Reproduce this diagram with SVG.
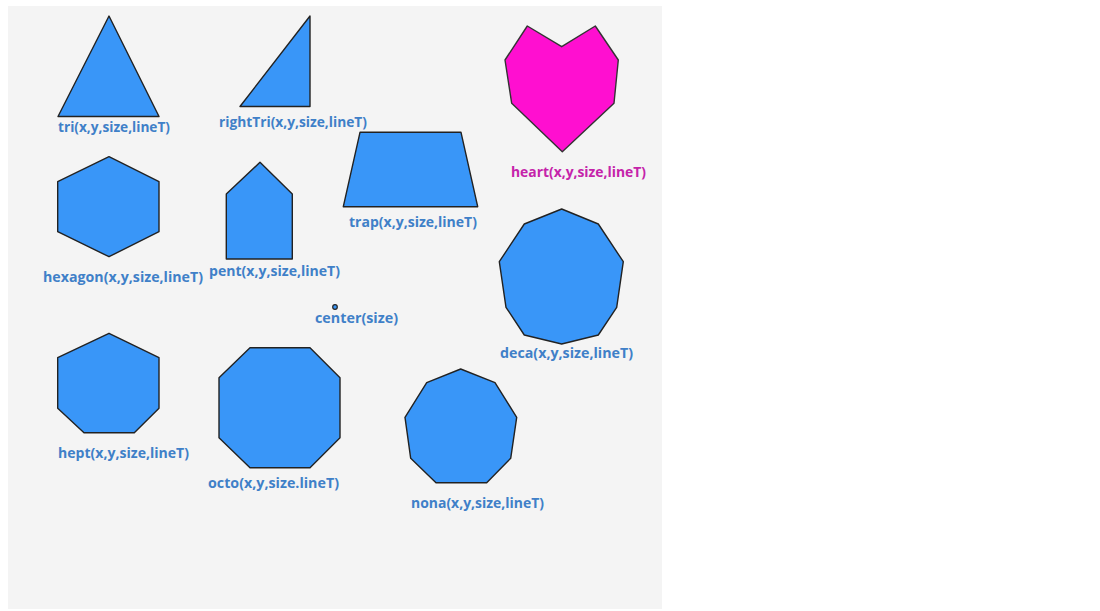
<svg xmlns="http://www.w3.org/2000/svg" width="1100" height="611" viewBox="0 0 1100 611">
<style>
.shape{fill:#3996f8;stroke:#222;stroke-width:1.4;stroke-linejoin:round}
.heart{fill:#ff0fd0;stroke:#333;stroke-width:1.4;stroke-linejoin:round}
.lbl{font-family:"Open Sans","Noto Sans",sans-serif;font-weight:bold;font-size:15px;fill:#3f80c8}
.hl{fill:#c523aa}
</style>
<rect x="0" y="0" width="1100" height="611" fill="#ffffff"/>
<rect x="8" y="6" width="654" height="603" fill="#f4f4f4"/>
<g id="tri">
<polygon class="shape" points="109,16 159,116.5 58,116.5"/>
<text class="lbl" x="58" y="132" textLength="112" lengthAdjust="spacingAndGlyphs">tri(x,y,size,lineT)</text>
</g>
<g id="rightTri">
<polygon class="shape" points="310,16 310,106.5 240,106.5"/>
<text class="lbl" x="219" y="127" textLength="148" lengthAdjust="spacingAndGlyphs">rightTri(x,y,size,lineT)</text>
</g>
<g id="heart">
<polygon class="heart" points="527.3,26 561.7,46.7 595.3,26 618.3,60 614,103.3 562.3,151.7 511.7,103.3 505,60"/>
<text class="lbl hl" x="511" y="177" textLength="135" lengthAdjust="spacingAndGlyphs">heart(x,y,size,lineT)</text>
</g>
<g id="hexagon">
<polygon class="shape" points="109,156.7 159,181.7 159,231.7 109,256.7 57.7,231.7 57.7,181.7"/>
<text class="lbl" x="43" y="282" textLength="160" lengthAdjust="spacingAndGlyphs">hexagon(x,y,size,lineT)</text>
</g>
<g id="pent">
<polygon class="shape" points="260,162.3 292.3,194 292.3,259 226.3,259 226.3,194"/>
<text class="lbl" x="209" y="276" textLength="131" lengthAdjust="spacingAndGlyphs">pent(x,y,size,lineT)</text>
</g>
<g id="trap">
<polygon class="shape" points="360,132.3 461,132.3 477.7,206.7 343.3,206.7"/>
<text class="lbl" x="349" y="227" textLength="128" lengthAdjust="spacingAndGlyphs">trap(x,y,size,lineT)</text>
</g>
<g id="deca">
<polygon class="shape" points="561.7,209 598.3,224 623.3,261.7 616.7,307.3 598.3,335 561.7,344 524.3,335 506,307.3 499.3,261.7 524.3,224"/>
<text class="lbl" x="500" y="358" textLength="133" lengthAdjust="spacingAndGlyphs">deca(x,y,size,lineT)</text>
</g>
<g id="center">
<circle cx="335" cy="307" r="2.3" fill="#3996f8" stroke="#222" stroke-width="1.2"/>
<text class="lbl" x="315" y="323" textLength="83" lengthAdjust="spacingAndGlyphs">center(size)</text>
</g>
<g id="hept">
<polygon class="shape" points="109,333.3 159,357.7 159,408.3 134.3,432.7 84,432.7 57.7,408.3 57.7,357.7"/>
<text class="lbl" x="58" y="458" textLength="131" lengthAdjust="spacingAndGlyphs">hept(x,y,size,lineT)</text>
</g>
<g id="octo">
<polygon class="shape" points="250,347.7 310,347.7 340,377.7 340,437.7 310,467.7 250,467.7 219,437.7 219,377.7"/>
<text class="lbl" x="208" y="488" textLength="131" lengthAdjust="spacingAndGlyphs">octo(x,y,size.lineT)</text>
</g>
<g id="nona">
<polygon class="shape" points="460.7,369 495,382.7 516.7,417.3 510.7,458.3 486.7,482.7 436,482.7 410.7,458.3 405,417.3 426.7,382.7"/>
<text class="lbl" x="411" y="508" textLength="133" lengthAdjust="spacingAndGlyphs">nona(x,y,size,lineT)</text>
</g>
<g id="connectors"></g>
</svg>
